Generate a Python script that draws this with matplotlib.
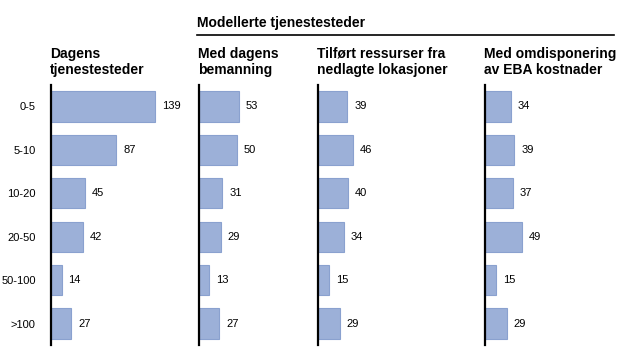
import matplotlib
matplotlib.use("Agg")
import matplotlib.pyplot as plt
from matplotlib.lines import Line2D

plt.rcParams['font.family'] = ['Liberation Sans', 'DejaVu Sans']

categories = ["0-5", "5-10", "10-20", "20-50", "50-100", ">100"]
titles = ["Dagens\ntjenestesteder", "Med dagens\nbemanning",
          "Tilført ressurser fra\nnedlagte lokasjoner", "Med omdisponering\nav EBA kostnader"]
header = "Modellerte tjenestesteder"
dagens = [139, 87, 45, 42, 14, 27]
med_dagens = [53, 50, 31, 29, 13, 27]
tilfort = [39, 46, 40, 34, 15, 29]
omdisp = [34, 39, 37, 49, 15, 29]
series = [dagens, med_dagens, tilfort, omdisp]

W, H = 620, 360
fig = plt.figure(figsize=(W / 100, H / 100), dpi=100)

# panel axis x positions and right limits in pixels
lefts = [51, 199, 318, 485]
rights = [185, 310, 475, 614]
scale = 0.75  # px per unit
top_px, bot_px = 85, 345

fill = '#9cb0d8'
edge = '#8aa1cf'

for i, (vals, t) in enumerate(zip(series, titles)):
    l, r = lefts[i], rights[i]
    ax = fig.add_axes([l / W, 1 - bot_px / H, (r - l) / W, (bot_px - top_px) / H])
    y = list(range(len(categories)))
    ax.barh(y, vals, height=0.70, color=fill, edgecolor=edge, linewidth=0.8)
    ax.set_xlim(0, (r - l) / scale)
    ax.set_ylim(5.49, -0.49)
    for s in ['top', 'right', 'bottom']:
        ax.spines[s].set_visible(False)
    ax.spines['left'].set_linewidth(1.6)
    ax.spines['left'].set_color('black')
    ax.set_xticks([])
    ax.set_yticks(y)
    if i == 0:
        ax.set_yticklabels(categories, fontsize=8)
        ax.tick_params(axis='y', length=0, pad=11)
    else:
        ax.set_yticklabels([])
        ax.tick_params(axis='y', length=0)
    for yy, v in zip(y, vals):
        ax.annotate(str(v), xy=(v, yy), xytext=(5, 0), textcoords='offset points',
                    ha='left', va='center', fontsize=8)
    fig.text(l / W - 0.002, 1 - 77 / H, t, ha='left', va='bottom',
             fontsize=10, fontweight='bold', linespacing=1.2)

fig.text(197 / W, 1 - 22.5 / H, header, ha='left', va='center',
         fontsize=10, fontweight='bold')
fig.add_artist(Line2D([197 / W, 614 / W], [1 - 35 / H, 1 - 35 / H],
                      color='black', linewidth=1.2, transform=fig.transFigure))

fig.savefig("out.png", dpi=100)
